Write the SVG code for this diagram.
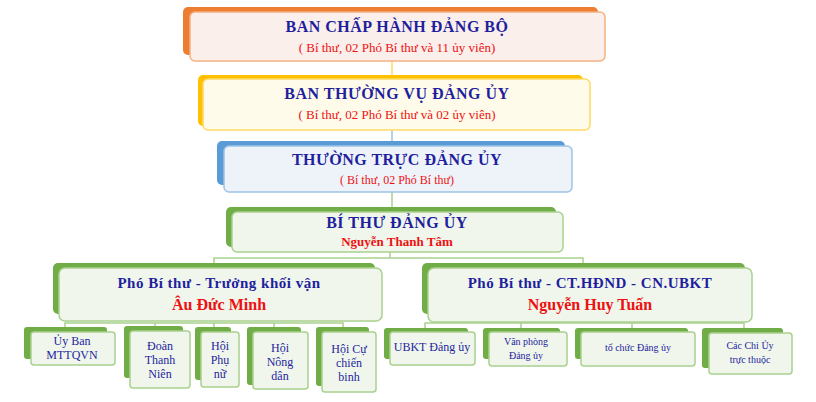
<svg xmlns="http://www.w3.org/2000/svg" width="816" height="402" viewBox="0 0 816 402">
<style>
text{font-family:"Liberation Serif","Times New Roman",serif;text-anchor:middle}
.t{font-weight:bold;fill:#1f1f9e;letter-spacing:0.5px}
.r{font-weight:bold;fill:#ee1111}
.s{fill:#ee1111;font-size:13px}
.c{fill:#1f1f9e;font-size:12px}
.g{fill:#70ad47}
.gf{fill:#f0f6ec;stroke:#a9d18e;stroke-width:1.5}
.ln{stroke:#a9d18e;stroke-width:1.5;fill:none}
</style>
<rect width="816" height="402" fill="#fff"/>
<g id="connectors">
<line x1="392" y1="61" x2="392" y2="79" stroke="#ffd966" stroke-width="1.5"/>
<line x1="392" y1="130" x2="392" y2="146" stroke="#9dc3e6" stroke-width="1.5"/>
<line x1="392" y1="192" x2="392" y2="212" stroke="#a9d18e" stroke-width="1.5"/>
<path class="ln" d="M390 252V258M214 265V258H583V264"/>
<path class="ln" d="M65 332V323H343V332M155 323V331M214 323V332M274 323V332"/>
<path class="ln" d="M425 332V323H744V333M521 323V332M632 323V332"/>
</g>
<g id="n1"><rect x="183" y="7" width="415" height="48" rx="5" fill="#ed7d31"/><rect x="190" y="12" width="415" height="49" rx="5" fill="#fbefec" stroke="#f4b183" stroke-width="1.5"/>
<text class="t" x="397" y="32" font-size="16">BAN CHẤP HÀNH ĐẢNG BỘ</text><text class="s" x="397" y="52">( Bí thư, 02 Phó Bí thư và 11 ủy viên)</text></g>
<g id="n2"><rect x="198" y="75" width="385" height="51" rx="5" fill="#ffc000"/><rect x="203" y="79" width="387" height="51" rx="5" fill="#fffbea" stroke="#ffd966" stroke-width="1.5"/>
<text class="t" x="397" y="99" font-size="16">BAN THƯỜNG VỤ ĐẢNG ỦY</text><text class="s" x="397" y="119">( Bí thư, 02 Phó Bí thư và 02 ủy viên)</text></g>
<g id="n3"><rect x="217" y="141" width="348" height="44" rx="5" fill="#5b9bd5"/><rect x="224" y="146" width="348" height="46" rx="5" fill="#eef3fa" stroke="#9dc3e6" stroke-width="1.5"/>
<text class="t" x="397" y="165" font-size="16">THƯỜNG TRỰC ĐẢNG ỦY</text><text class="s" x="397" y="184" style="font-size:12px">( Bí thư, 02 Phó Bí thư)</text></g>
<g id="n4"><rect class="g" x="226" y="207" width="330" height="40" rx="5"/><rect class="gf" x="232" y="212" width="331" height="40" rx="5"/>
<text class="t" x="397" y="228" font-size="16">BÍ THƯ ĐẢNG ỦY</text><text class="r" x="397" y="246" font-size="13">Nguyễn Thanh Tâm</text></g>
<g id="n5"><rect class="g" x="53" y="263" width="322" height="51" rx="5"/><rect class="gf" x="59" y="268" width="323" height="53" rx="6"/>
<text class="t" x="219" y="288" font-size="15">Phó Bí thư - Trưởng khối vận</text><text class="r" x="219" y="310" font-size="16">Âu Đức Minh</text></g>
<g id="n6"><rect class="g" x="422" y="263" width="323" height="51" rx="5"/><rect class="gf" x="428" y="268" width="324" height="54" rx="6"/>
<text class="t" x="590" y="288" font-size="15">Phó Bí thư - CT.HĐND - CN.UBKT</text><text class="r" x="590" y="310" font-size="16">Nguyễn Huy Tuấn</text></g>
<g id="c1"><rect class="g" x="24" y="327" width="83" height="32" rx="3"/><rect class="gf" x="31" y="332" width="84" height="33" rx="3"/><text class="c" x="72" y="345">Ủy Ban</text><text class="c" x="72" y="359">MTTQVN</text></g>
<g id="c2"><rect class="g" x="124" y="326" width="59" height="52" rx="3"/><rect class="gf" x="130" y="331" width="60" height="57" rx="3"/><text class="c" x="160" y="350">Đoàn</text><text class="c" x="160" y="364">Thanh</text><text class="c" x="160" y="378">Niên</text></g>
<g id="c3"><rect class="g" x="195" y="327" width="36" height="53" rx="3"/><rect class="gf" x="201" y="332" width="38" height="55" rx="3"/><text class="c" x="220" y="350">Hội</text><text class="c" x="220" y="364">Phụ</text><text class="c" x="220" y="378">nữ</text></g>
<g id="c4"><rect class="g" x="247" y="327" width="54" height="58" rx="3"/><rect class="gf" x="253" y="332" width="55" height="57" rx="3"/><text class="c" x="280" y="352">Hội</text><text class="c" x="280" y="366">Nông</text><text class="c" x="280" y="380">dân</text></g>
<g id="c5"><rect class="g" x="316" y="327" width="53" height="59" rx="3"/><rect class="gf" x="322" y="332" width="54" height="60" rx="3"/><text class="c" x="349" y="353">Hội Cự</text><text class="c" x="349" y="367">chiến</text><text class="c" x="349" y="381">binh</text></g>
<g id="r1"><rect class="g" x="384" y="328" width="84" height="31" rx="3"/><rect class="gf" x="390" y="332" width="85" height="33" rx="3"/><text class="c" x="432" y="351" font-size="10">UBKT  Đảng ủy</text></g>
<g id="r2"><rect class="g" x="483" y="328" width="77" height="31" rx="3"/><rect class="gf" x="489" y="332" width="78" height="34" rx="3"/><text class="c" x="526" y="345" style="font-size:10px">Văn phòng</text><text class="c" x="526" y="359" style="font-size:10px">Đảng ủy</text></g>
<g id="r3"><rect class="g" x="575" y="328" width="113" height="31" rx="3"/><rect class="gf" x="581" y="332" width="114" height="34" rx="3"/><text class="c" x="638" y="351" style="font-size:10px">tổ chức Đảng ủy</text></g>
<g id="r4"><rect class="g" x="702" y="328" width="81" height="40" rx="3"/><rect class="gf" x="709" y="333" width="83" height="41" rx="3"/><text class="c" x="750" y="349" style="font-size:10px">Các Chi Ủy</text><text class="c" x="750" y="363" style="font-size:10px">trực thuộc</text></g>
</svg>
